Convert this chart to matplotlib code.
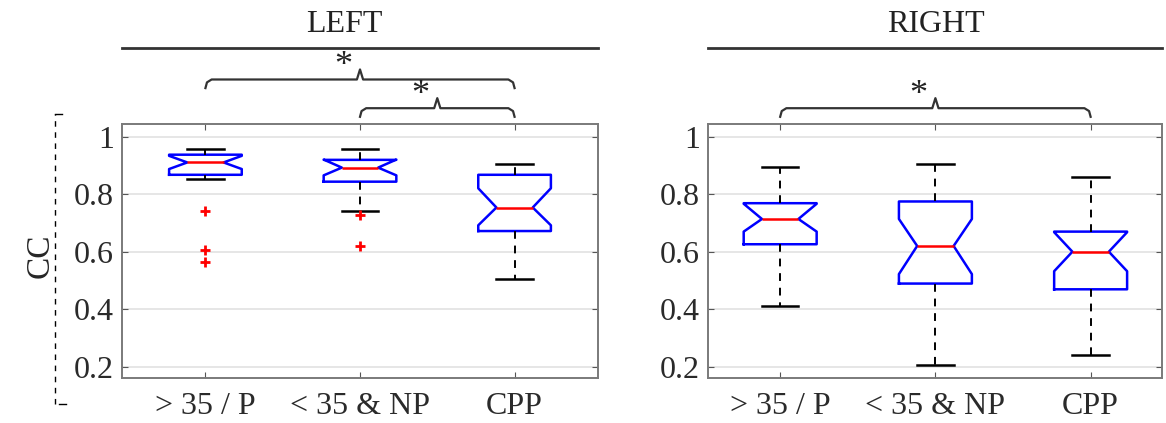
import matplotlib
matplotlib.use("Agg")
import matplotlib.pyplot as plt
from matplotlib.lines import Line2D

plt.rcParams['font.family'] = ['Liberation Serif', 'DejaVu Serif']

groups = ["> 35 / P", "< 35 & NP", "CPP"]
yticks = [0.2, 0.4, 0.6, 0.8, 1.0]
ytick_labels = ["0.2", "0.4", "0.6", "0.8", "1"]

# LEFT side box statistics
left_med = [0.911, 0.893, 0.754]
left_q1 = [0.868, 0.844, 0.672]
left_q3 = [0.938, 0.920, 0.868]
left_whislo = [0.852, 0.741, 0.505]
left_whishi = [0.959, 0.959, 0.905]
left_cilo = [0.888, 0.866, 0.692]
left_cihi = [0.934, 0.921, 0.821]
left_fliers = [[0.743, 0.606, 0.563], [0.727, 0.619], []]

# RIGHT side
right_med = [0.714, 0.620, 0.600]
right_q1 = [0.626, 0.489, 0.469]
right_q3 = [0.769, 0.775, 0.670]
right_whislo = [0.411, 0.207, 0.241]
right_whishi = [0.894, 0.907, 0.859]
right_cilo = [0.670, 0.522, 0.532]
right_cihi = [0.767, 0.714, 0.668]
right_fliers = [[], [], []]

# significance brackets: (from group, to group, level)
left_sig = [(1, 3, 1.20), (2, 3, 1.10)]
right_sig = [(1, 3, 1.10)]


def make_stats(med, q1, q3, wlo, whi, cilo, cihi, fliers):
    stats = []
    for i in range(len(med)):
        stats.append(dict(med=med[i], q1=q1[i], q3=q3[i], whislo=wlo[i],
                          whishi=whi[i], cilo=cilo[i], cihi=cihi[i],
                          fliers=fliers[i], label=groups[i]))
    return stats


def draw_bracket(ax, x1, x2, y):
    d = 0.03
    xm = (x1 + x2) / 2
    xs = [x1, x1 + 0.01, x1 + 0.04, xm - 0.02, xm, xm + 0.02, x2 - 0.04, x2 - 0.01, x2]
    ys = [y - d, y - 0.01, y, y, y + 0.035, y, y, y - 0.01, y - d]
    ax.plot(xs, ys, color="#333333", lw=1.6, clip_on=False)
    ax.text(xm - 0.11, y + 0.045, "*", ha="center", va="center", fontsize=26,
            color="#222222", clip_on=False)


def draw_panel(ax, stats, sigs, title, title_x, xlim):
    ax.bxp(stats, positions=[1, 2, 3], widths=0.47, shownotches=True,
           boxprops=dict(color="blue", lw=1.8),
           medianprops=dict(color="red", lw=1.8),
           whiskerprops=dict(color="black", lw=1.4, ls=(0, (4, 3.5))),
           capprops=dict(color="black", lw=1.8),
           flierprops=dict(marker="+", markeredgecolor="red", markersize=7, mew=2))
    ax.set_xlim(*xlim)
    ax.set_ylim(0.16, 1.045)
    ax.set_yticks(yticks)
    ax.set_yticklabels(ytick_labels)
    ax.set_xticks([1, 2, 3])
    ax.set_xticklabels(groups)
    ax.grid(axis="y", color="#e6e6e6", lw=1.4)
    ax.set_axisbelow(True)
    ax.tick_params(direction="in", top=True, right=True, length=4,
                   labelsize=23, colors="#555555", labelcolor="#2a2a2a")
    ax.tick_params(axis="x", pad=10)
    ax.tick_params(axis="y", pad=6)
    for s in ax.spines.values():
        s.set_color("#7a7a7a")
        s.set_linewidth(1.4)
    for x1, x2, y in sigs:
        draw_bracket(ax, x1, x2, y)
    ax.plot([0, 1], [1.30, 1.30], transform=ax.transAxes, color="#333333",
            lw=2, clip_on=False)
    ax.text(title_x, 1.39, title, ha="center", va="center", fontsize=23,
            color="#222222")


fig = plt.figure(figsize=(11.66, 4.23), dpi=100)
ax1 = fig.add_axes([0.1046, 0.1064, 0.4083, 0.6005])
ax2 = fig.add_axes([0.6072, 0.1064, 0.3894, 0.6005])

draw_panel(ax1, make_stats(left_med, left_q1, left_q3, left_whislo, left_whishi,
                           left_cilo, left_cihi, left_fliers),
           left_sig, "LEFT", 1.9, (0.46, 3.54))
draw_panel(ax2, make_stats(right_med, right_q1, right_q3, right_whislo, right_whishi,
                           right_cilo, right_cihi, right_fliers),
           right_sig, "RIGHT", 2.0, (0.535, 3.46))

ax1.set_ylabel("CC", fontsize=24, color="#262626")
ax1.yaxis.set_label_coords(-0.14, 0.48)

# dashed vertical guide at the far left
fig.add_artist(Line2D([0.047, 0.047], [0.045, 0.73], color="black", lw=1,
                      ls=(0, (4, 4))))
fig.add_artist(Line2D([0.047, 0.053], [0.73, 0.73], color="black", lw=1))
fig.add_artist(Line2D([0.051, 0.057], [0.045, 0.045], color="black", lw=1))

fig.savefig("out.png", dpi=100)
